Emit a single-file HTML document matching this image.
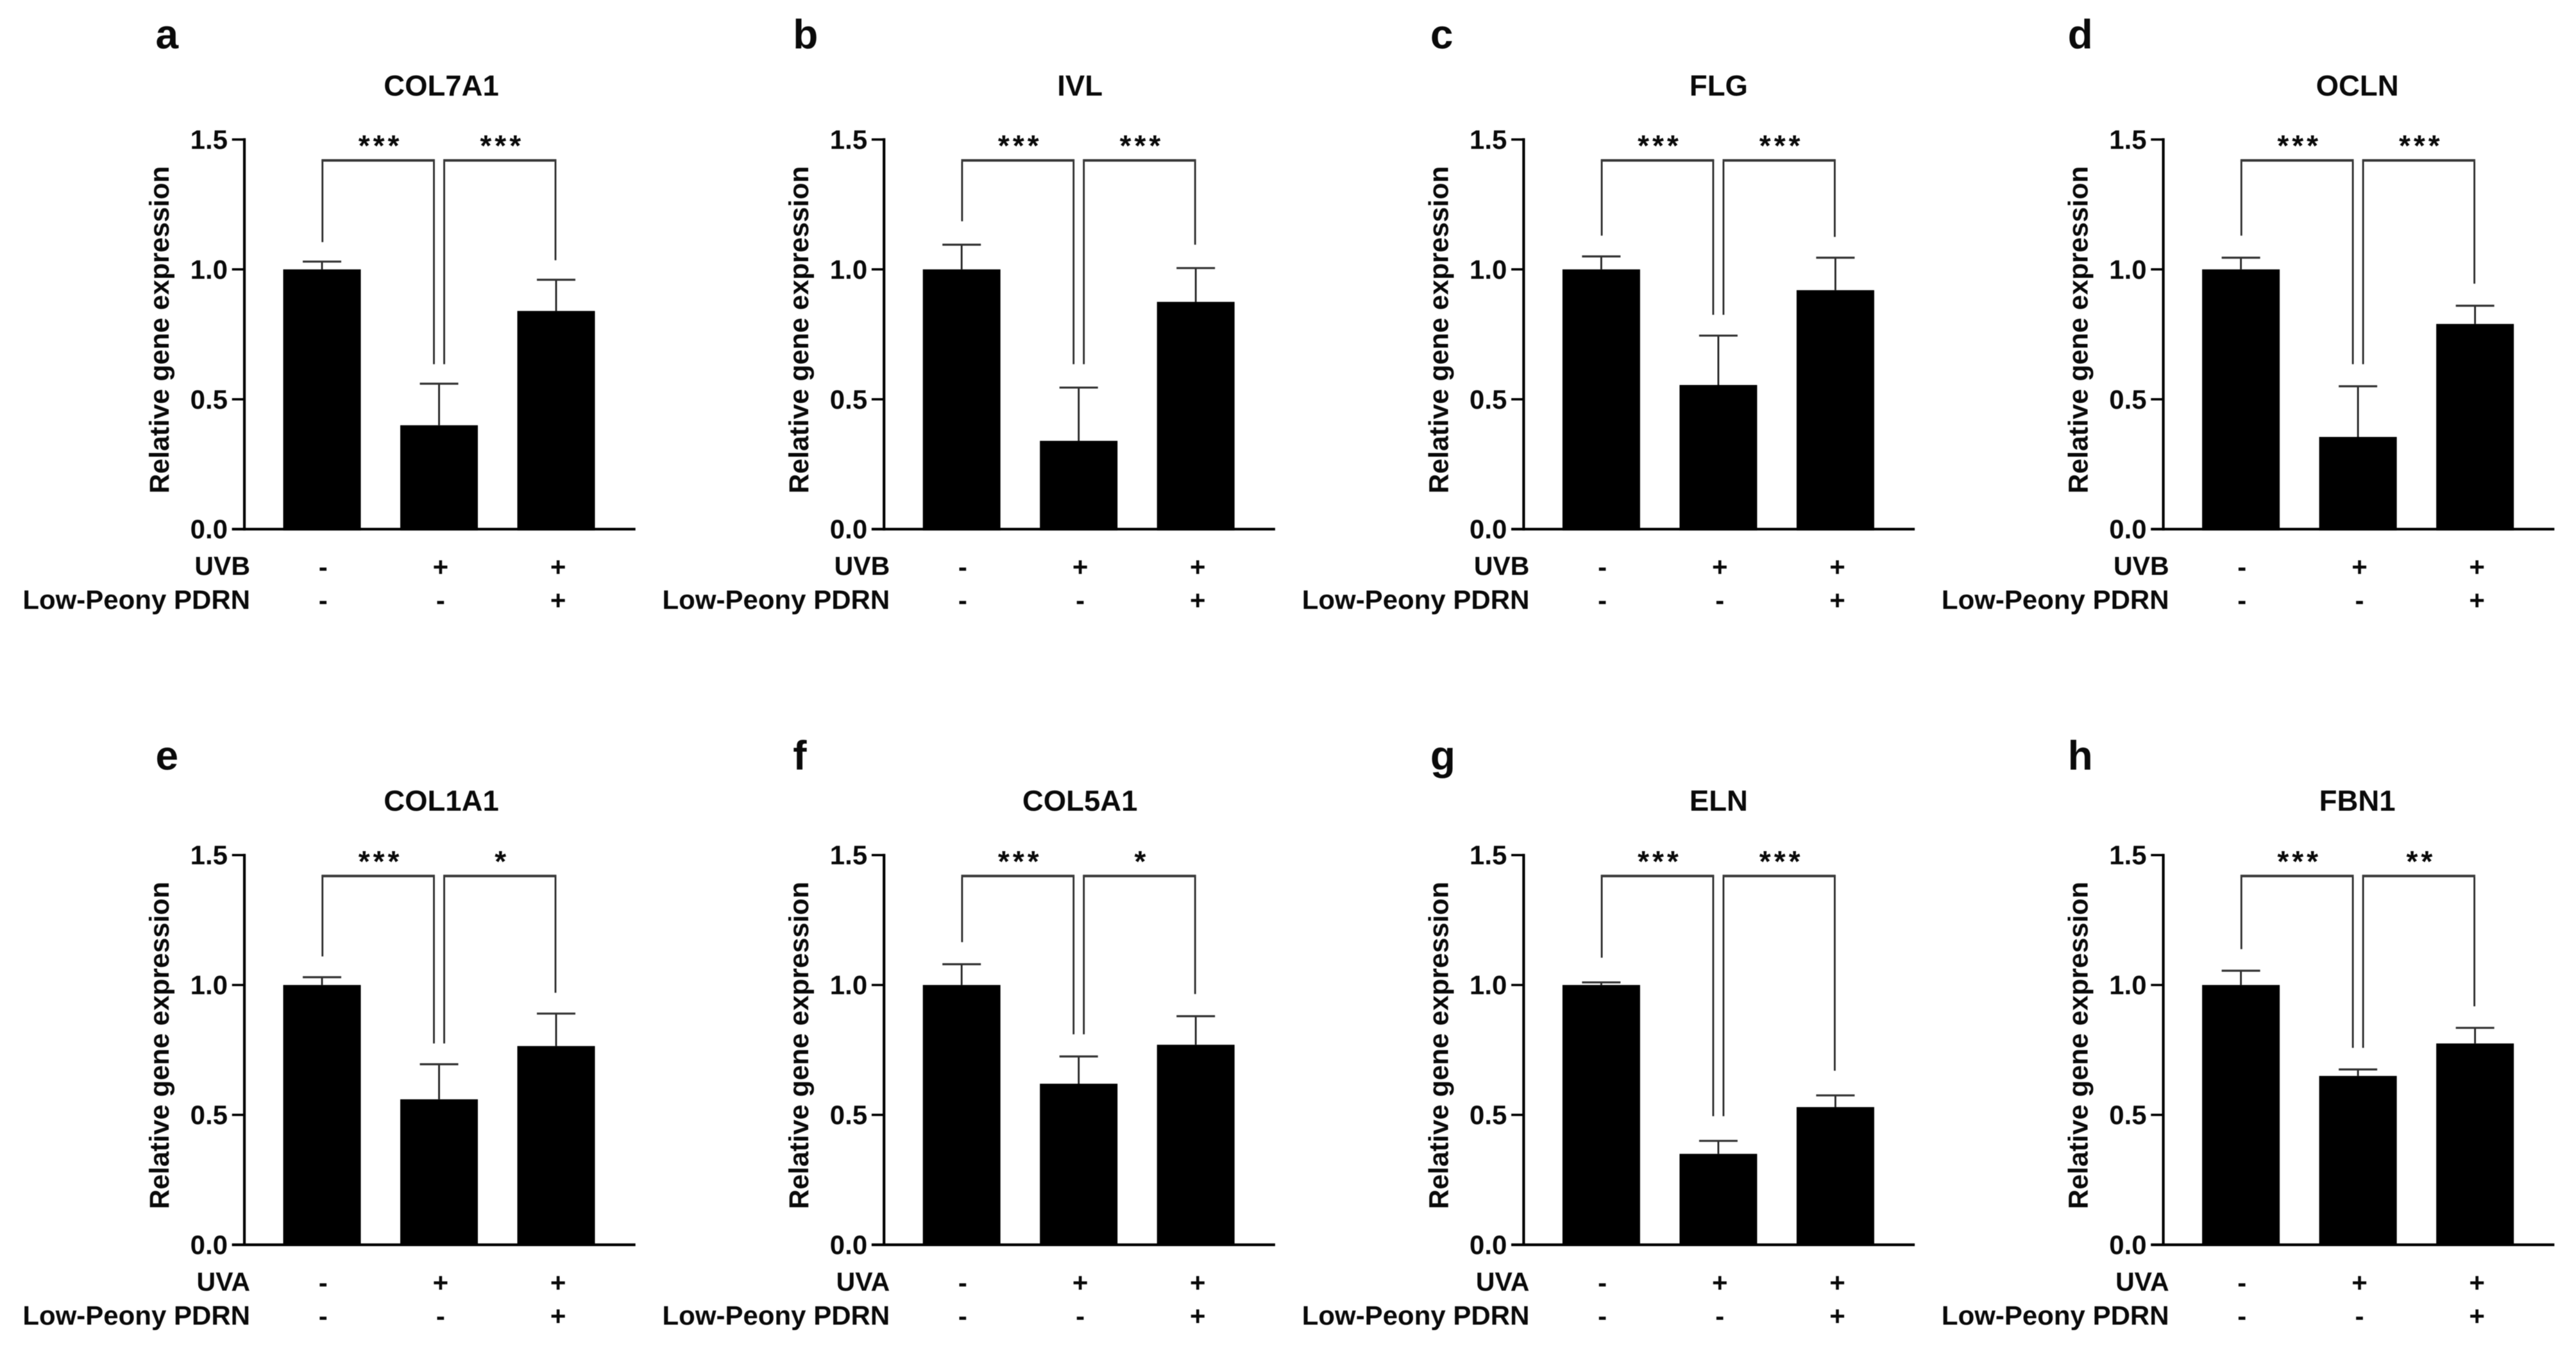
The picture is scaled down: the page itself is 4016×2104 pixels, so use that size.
<!DOCTYPE html>
<html lang="en">
<head>
<meta charset="utf-8">
<title>Relative gene expression panels</title>
<style>
html,body{margin:0;padding:0;background:#fff;width:4016px;height:2104px;overflow:hidden}
svg{display:block;filter:blur(.6px)}
text{font-family:"Liberation Sans",Arial,sans-serif;fill:#0a0a0a}
.b{font-weight:700}
</style>
</head>
<body>
<svg id="figure" xmlns="http://www.w3.org/2000/svg" width="4016" height="2104" viewBox="0 0 4016 2104"></svg>
<script>
const letters = ["a","b","c","d","e","f","g","h"];
const genes = ["COL7A1","IVL","FLG","OCLN","COL1A1","COL5A1","ELN","FBN1"];
const treatments = ["UVB","UVB","UVB","UVB","UVA","UVA","UVA","UVA"];
const means = [
  [1.00,0.40,0.84],
  [1.00,0.34,0.875],
  [1.00,0.555,0.92],
  [1.00,0.355,0.79],
  [1.00,0.56,0.765],
  [1.00,0.62,0.77],
  [1.00,0.35,0.53],
  [1.00,0.65,0.775]
];
const errors = [
  [0.03,0.16,0.12],
  [0.095,0.205,0.13],
  [0.05,0.19,0.125],
  [0.045,0.195,0.07],
  [0.03,0.135,0.125],
  [0.08,0.105,0.11],
  [0.01,0.05,0.045],
  [0.055,0.025,0.06]
];
const legGaps = [0.075,0.09,0.08,0.085,0.08,0.085,0.095,0.083];
const sigLeft = ["***","***","***","***","***","***","***","***"];
const sigRight = ["***","***","***","***","*","*","***","**"];
const tickValues = [0,0.5,1.0,1.5];
const tickLabels = ["0.0","0.5","1.0","1.5"];
const treatmentFlags = ["-","+","+"];
const pdrnFlags = ["-","-","+"];
const pdrnLabel = "Low-Peony PDRN";
const axisTitle = "Relative gene expression";

const svg = document.getElementById('figure');
const NS = 'http://www.w3.org/2000/svg';

function make(tag, attrs, parent, txt) {
  const n = document.createElementNS(NS, tag);
  for (const k in attrs) n.setAttribute(k, attrs[k]);
  if (txt !== undefined) n.textContent = txt;
  parent.appendChild(n);
  return n;
}
const yMax = 1.5;
const plotH = 607.3;
function yScale(v) { return 824.7 - (v / yMax) * plotH; }
function xCenter(i) { return 502 + i * 182.5; }
function flagX(i) { return 503.7 + i * 183.2; }
const barW = 121, capW = 60, bracketV = 1.4195;

letters.forEach(function (letter, p) {
  const col = p % 4, row = Math.floor(p / 4);
  const g = make('g', {transform: 'translate(' + (col * 997.2) + ',' + (row * 1115.3) + ')'}, svg);
  
  

  const lt = make('text', {x: 242.5 - col * 3.5, y: 75.5 + row * 8.7, class: 'b', 'font-size': 64}, g, letter);
  
  

  const title = make('text', {x: 688 - col * 1.5, y: 149 - row, class: 'b', 'font-size': 45.5, 'text-anchor': 'middle'}, g, genes[p]);
  
  

  const yt = make('text', {x: 0, y: 0, class: 'b', 'font-size': 42.5, 'text-anchor': 'middle', transform: 'translate(263,514) rotate(-90)'}, g, axisTitle);
  
  

  means[p].forEach(function (m, i) {
    const cx = xCenter(i);
    const bar = make('rect', {x: cx - barW / 2, y: yScale(m), width: barW, height: yScale(0) - yScale(m) + 2, fill: '#000'}, g);
    
    
    const top = m + errors[p][i];
    const stem = make('line', {x1: cx, x2: cx, y1: yScale(m), y2: yScale(top), stroke: '#222', 'stroke-width': 2.8}, g);
    
    
    const cap = make('line', {x1: cx - capW / 2, x2: cx + capW / 2, y1: yScale(top), y2: yScale(top), stroke: '#333', 'stroke-width': 3.2}, g);
    
    
  });

  const yAxis = make('line', {x1: 381, x2: 381, y1: yScale(1.5) - 2, y2: yScale(0) + 2, stroke: '#000', 'stroke-width': 4.2}, g);
  
  
  const xAxis = make('line', {x1: 361.7, x2: 990.7, y1: yScale(0), y2: yScale(0), stroke: '#000', 'stroke-width': 4.2}, g);
  
  

  tickValues.forEach(function (t, i) {
    const tk = make('line', {x1: 361.7, x2: 381, y1: yScale(t), y2: yScale(t), stroke: '#000', 'stroke-width': 3.6}, g);
    
    
    const tl = make('text', {x: 355, y: yScale(t) + 14.5, class: 'b', 'font-size': 42, 'text-anchor': 'end'}, g, tickLabels[i]);
    
    
  });

  const topE = function (i) { return means[p][i] + errors[p][i] + legGaps[p]; };
  const x0 = xCenter(0) + 0.7, x1 = xCenter(1), x2 = xCenter(2) - 1;
  const bl = make('path', {d: 'M' + x0 + ' ' + yScale(topE(0)) + 'V' + yScale(bracketV) + 'H' + (x1 - 8) + 'V' + yScale(topE(1)), fill: 'none', stroke: '#2a2a2a', 'stroke-width': 2.8}, g);
  
  
  const br = make('path', {d: 'M' + (x1 + 8) + ' ' + yScale(topE(1)) + 'V' + yScale(bracketV) + 'H' + x2 + 'V' + yScale(topE(2)), fill: 'none', stroke: '#2a2a2a', 'stroke-width': 2.8}, g);
  
  
  const tl1 = make('line', {x1: x0 - 1.4, x2: x1 - 6.6, y1: yScale(bracketV), y2: yScale(bracketV), stroke: '#3a3a3a', 'stroke-width': 4}, g);
  
  
  const tl2 = make('line', {x1: x1 + 6.6, x2: x2 + 1.4, y1: yScale(bracketV), y2: yScale(bracketV), stroke: '#3a3a3a', 'stroke-width': 4}, g);
  
  

  const sl = make('text', {x: (x0 + x1 - 8) / 2 + 3.5, y: 243, class: 'b', 'font-size': 46, 'letter-spacing': 5, 'text-anchor': 'middle'}, g, sigLeft[p]);
  
  
  const sr = make('text', {x: (x1 + 8 + x2) / 2 + 3.5, y: 243, class: 'b', 'font-size': 46, 'letter-spacing': 5, 'text-anchor': 'middle'}, g, sigRight[p]);
  
  

  const uv = make('text', {x: 390, y: 896, class: 'b', 'font-size': 41, 'text-anchor': 'end'}, g, treatments[p]);
  
  
  const pd = make('text', {x: 390, y: 949, class: 'b', 'font-size': 42, 'text-anchor': 'end'}, g, pdrnLabel);
  
  

  treatmentFlags.forEach(function (s, i) {
    const f = make('text', {x: flagX(i), y: 898, class: 'b', 'font-size': 42, 'text-anchor': 'middle'}, g, s);
    
    
  });
  pdrnFlags.forEach(function (s, i) {
    const f = make('text', {x: flagX(i), y: 950, class: 'b', 'font-size': 42, 'text-anchor': 'middle'}, g, s);
    
    
  });
});
</script>
</body>
</html>
